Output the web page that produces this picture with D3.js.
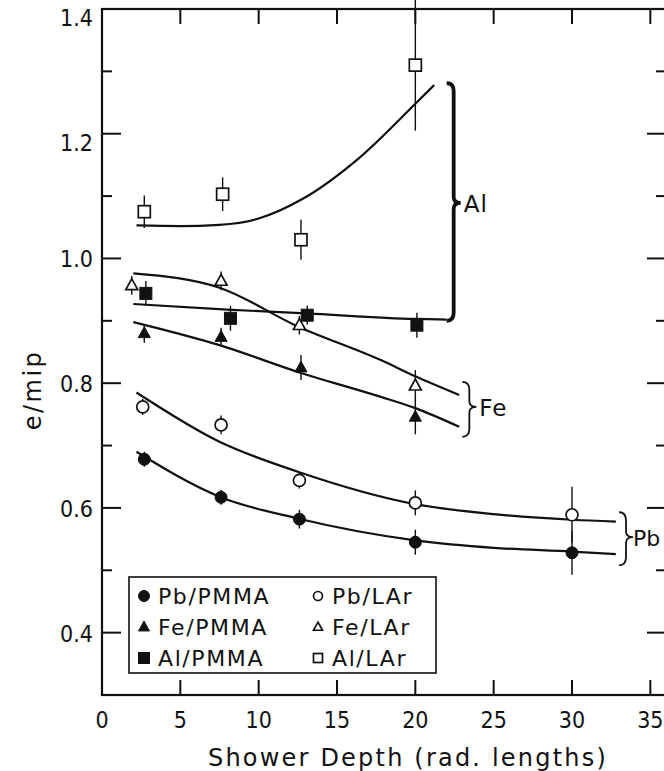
<!DOCTYPE html>
<html lang="en">
<head>
<meta charset="UTF-8">
<title>e/mip vs shower depth</title>
<script src="https://cdn.jsdelivr.net/npm/d3@7"></script>
<style>
  body { margin: 0; background: white; }
  svg text { font-family: "DejaVu Sans", sans-serif; fill: #111; }
  svg text.tick { font-family: "DejaVu Sans Condensed", "DejaVu Sans", sans-serif; }
</style>
</head>
<body>
<svg id="chart" width="664" height="771"></svg>
<script>
// measured points (depth in rad. lengths, e/mip, error)
var pbPmmaX = [2.7, 7.6, 12.6, 20.0, 30.0];
var pbPmmaY = [0.678, 0.617, 0.582, 0.545, 0.528];
var pbPmmaE = [0.012, 0.012, 0.015, 0.02, 0.035];

var pbLarX = [2.6, 7.6, 12.6, 20.0, 30.0];
var pbLarY = [0.762, 0.733, 0.644, 0.608, 0.589];
var pbLarE = [0.013, 0.015, 0.013, 0.02, 0.045];

var fePmmaX = [2.7, 7.6, 12.7, 20.0];
var fePmmaY = [0.880, 0.874, 0.825, 0.746];
var fePmmaE = [0.015, 0.015, 0.02, 0.028];

var feLarX = [1.9, 7.6, 12.6, 20.0];
var feLarY = [0.957, 0.964, 0.893, 0.796];
var feLarE = [0.015, 0.015, 0.015, 0.025];

var alPmmaX = [2.8, 8.2, 13.1, 20.1];
var alPmmaY = [0.944, 0.904, 0.909, 0.893];
var alPmmaE = [0.02, 0.02, 0.015, 0.02];

var alLarX = [2.7, 7.7, 12.7, 20.0];
var alLarY = [1.075, 1.103, 1.03, 1.31];
var alLarE = [0.026, 0.027, 0.032, 0.105];

// fitted curves
var fitAlLarX = [2.2, 5, 7.5, 10, 12.7, 16.5, 20, 21.2];
var fitAlLarY = [1.053, 1.052, 1.054, 1.064, 1.094, 1.163, 1.248, 1.278];
var fitAlPmmaX = [2, 8, 13, 20, 22];
var fitAlPmmaY = [0.927, 0.918, 0.912, 0.903, 0.902];
var fitFeLarX = [2, 7.5, 12.5, 17.8, 20, 22.8];
var fitFeLarY = [0.976, 0.953, 0.891, 0.837, 0.811, 0.781];
var fitFePmmaX = [2, 7.5, 12.5, 17.8, 20, 22.8];
var fitFePmmaY = [0.898, 0.861, 0.818, 0.778, 0.760, 0.730];
var fitPbLarX = [2.2, 7.5, 12.5, 20, 25, 30, 32.8];
var fitPbLarY = [0.785, 0.706, 0.658, 0.606, 0.590, 0.581, 0.578];
var fitPbPmmaX = [2.2, 7.5, 12.5, 20, 25, 30, 32.8];
var fitPbPmmaY = [0.690, 0.618, 0.583, 0.548, 0.536, 0.530, 0.526];

var xTicks = [0, 5, 10, 15, 20, 25, 30, 35];
var yMajor = [0.4, 0.6, 0.8, 1.0, 1.2, 1.4];
var yMinor = [0.5, 0.7, 0.9, 1.1, 1.3];

// braces: label, x, top, bottom, tip
var braceLabels = ["Al", "Fe", "Pb"];
var braceX = [22.0, 23.0, 33.0];
var braceTop = [1.281, 0.802, 0.593];
var braceBot = [0.900, 0.714, 0.508];
var braceTip = [1.089, 0.762, 0.553];

var legendNames = ["Pb/PMMA", "Fe/PMMA", "Al/PMMA", "Pb/LAr", "Fe/LAr", "Al/LAr"];

var svg = d3.select("#chart");
var x = d3.scaleLinear().domain([0, 36]).range([102, 666]);
var y = d3.scaleLinear().domain([0.3, 1.4]).range([695, 9]);

// frame
svg.append("rect").attr("x", x(0)).attr("y", y(1.4))
   .attr("width", x(36) - x(0)).attr("height", y(0.3) - y(1.4))
   .attr("fill", "none").attr("stroke", "#111").attr("stroke-width", 2.2);

// x ticks bottom and top, inward
var g = svg.append("g");
g.selectAll(".xb").data(xTicks.slice(1)).enter().append("line")
  .attr("x1", d => x(d)).attr("x2", d => x(d))
  .attr("y1", y(0.3)).attr("y2", y(0.3) - 15)
  .attr("stroke", "#111").attr("stroke-width", 2);
g.selectAll(".xt").data(xTicks.slice(1)).enter().append("line")
  .attr("x1", d => x(d)).attr("x2", d => x(d))
  .attr("y1", y(1.4)).attr("y2", y(1.4) + 15)
  .attr("stroke", "#111").attr("stroke-width", 2);
g.selectAll(".xl").data(xTicks).enter().append("text")
  .attr("class", "tick")
  .attr("x", d => x(d)).attr("y", 728)
  .attr("text-anchor", "middle").attr("font-size", 23)
  .text(d => d);

// y ticks left and right
yMajor.concat(yMinor).forEach(function (v) {
  var len = yMajor.indexOf(v) >= 0 ? 19 : 10;
  g.append("line").attr("x1", x(0)).attr("x2", x(0) + len)
    .attr("y1", y(v)).attr("y2", y(v)).attr("stroke", "#111").attr("stroke-width", 2);
  g.append("line").attr("x1", x(36)).attr("x2", x(36) - len)
    .attr("y1", y(v)).attr("y2", y(v)).attr("stroke", "#111").attr("stroke-width", 2);
});
g.selectAll(".yl").data(yMajor).enter().append("text")
  .attr("class", "tick")
  .attr("x", 93).attr("y", d => y(d) + (d > 1.1 ? 17 : 9))
  .attr("text-anchor", "end").attr("font-size", 23)
  .text(d => d.toFixed(1));

// axis titles
svg.append("text").attr("x", 408).attr("y", 766)
  .attr("text-anchor", "middle").attr("font-size", 24).attr("letter-spacing", 2.2)
  .text("Shower Depth (rad. lengths)");
svg.append("text").attr("transform", "translate(41,390) rotate(-90)")
  .attr("text-anchor", "middle").attr("font-size", 24).attr("letter-spacing", 2.5)
  .text("e/mip");

// fitted curves
var line = d3.line().x(d => x(d[0])).y(d => y(d[1])).curve(d3.curveMonotoneX);
function zip(a, b) { return a.map((v, i) => [v, b[i]]); }
[[fitAlLarX, fitAlLarY], [fitAlPmmaX, fitAlPmmaY], [fitFeLarX, fitFeLarY],
 [fitFePmmaX, fitFePmmaY], [fitPbLarX, fitPbLarY], [fitPbPmmaX, fitPbPmmaY]]
  .forEach(function (f) {
    svg.append("path").datum(zip(f[0], f[1])).attr("d", line)
      .attr("fill", "none").attr("stroke", "#111").attr("stroke-width", 2.2);
  });

// markers
function marker(sel, shape, filled, cx, cy, s) {
  var m;
  if (shape === "circle") {
    m = sel.append("circle").attr("cx", cx).attr("cy", cy).attr("r", s / 2);
  } else if (shape === "square") {
    m = sel.append("rect").attr("x", cx - s / 2).attr("y", cy - s / 2).attr("width", s).attr("height", s);
  } else {
    var h = s * 0.9;
    m = sel.append("path").attr("d", "M" + cx + "," + (cy - h * 0.6) + "L" + (cx + s / 2) + "," + (cy + h * 0.4) + "L" + (cx - s / 2) + "," + (cy + h * 0.4) + "Z");
  }
  m.attr("fill", filled ? "#111" : "white").attr("stroke", "#111").attr("stroke-width", filled ? 1 : 1.7);
}

var series = [
  [pbPmmaX, pbPmmaY, pbPmmaE, "circle", true],
  [pbLarX, pbLarY, pbLarE, "circle", false],
  [fePmmaX, fePmmaY, fePmmaE, "triangle", true],
  [feLarX, feLarY, feLarE, "triangle", false],
  [alPmmaX, alPmmaY, alPmmaE, "square", true],
  [alLarX, alLarY, alLarE, "square", false]
];
series.forEach(function (s) {
  var pts = s[0].map((v, i) => ({ x: v, y: s[1][i], e: s[2][i] }));
  svg.append("g").selectAll("line").data(pts).enter().append("line")
    .attr("x1", d => x(d.x)).attr("x2", d => x(d.x))
    .attr("y1", d => y(d.y - d.e)).attr("y2", d => y(d.y + d.e))
    .attr("stroke", "#111").attr("stroke-width", 1.4);
  var mg = svg.append("g");
  pts.forEach(d => marker(mg, s[3], s[4], x(d.x), y(d.y), 12));
});

// braces
function brace(xp, yt, yb, yc, w) {
  var p = d3.path();
  p.moveTo(xp, yt);
  p.quadraticCurveTo(xp + w * 0.5, yt, xp + w * 0.5, yt + 8);
  p.lineTo(xp + w * 0.5, yc - 6);
  p.quadraticCurveTo(xp + w * 0.5, yc, xp + w, yc);
  p.quadraticCurveTo(xp + w * 0.5, yc, xp + w * 0.5, yc + 6);
  p.lineTo(xp + w * 0.5, yb - 8);
  p.quadraticCurveTo(xp + w * 0.5, yb, xp, yb);
  return p.toString();
}
braceLabels.forEach(function (lab, i) {
  var xp = x(braceX[i]);
  svg.append("path").attr("d", brace(xp, y(braceTop[i]), y(braceBot[i]), y(braceTip[i]), 14))
    .attr("fill", "none").attr("stroke", "#111").attr("stroke-width", i === 0 ? 3.8 : 1.8);
  var last = i === braceLabels.length - 1;
  svg.append("text").attr("x", xp + (last ? 14 : 17)).attr("y", y(braceTip[i]) + 9)
    .attr("font-size", last ? 22 : 23).attr("letter-spacing", last ? 0 : 1).text(lab);
});

// legend
var lg = svg.append("g");
lg.append("rect").attr("x", 129).attr("y", 577).attr("width", 307).attr("height", 96)
  .attr("fill", "white").attr("stroke", "#111").attr("stroke-width", 1.6);
var shapes = ["circle", "triangle", "square"];
legendNames.forEach(function (name, i) {
  var col = Math.floor(i / 3), row = i % 3;
  var mx = col === 0 ? 144 : 318;
  var my = 596 + row * 31;
  marker(lg, shapes[row], col === 0, mx, my, col === 0 ? 11 : 9);
  lg.append("text").attr("x", mx + 14).attr("y", my + 8)
    .attr("font-size", 22).attr("letter-spacing", 1.6).text(name);
});
</script>
</body>
</html>
